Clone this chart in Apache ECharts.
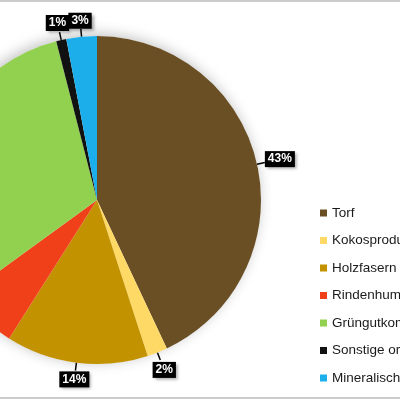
<!DOCTYPE html>
<html>
<head>
<meta charset="utf-8">
<script src="https://cdn.jsdelivr.net/npm/echarts@6/dist/echarts.min.js"></script>
<style>html,body{margin:0;padding:0;background:#fff;}#c{width:400px;height:400px;}</style>
</head>
<body>
<div id="c"></div>
<script>
const categories = ['Torf', 'Kokosprodukte', 'Holzfasern', 'Rindenhumus', 'Grüngutkompost', 'Sonstige organische Stoffe', 'Mineralische Stoffe'];
const shares = [43, 2, 14, 6, 31, 1, 3];
const colors = ['#6a4f25', '#ffd966', '#c29200', '#f0401a', '#92d050', '#111111', '#1caeea'];

const CENTER = [97, 200];
const RADIUS = 164;
const GAP = 7;

const chart = echarts.init(document.getElementById('c'), null, {renderer: 'canvas'});
chart.setOption({
  backgroundColor: '#ffffff',
  animation: false,
  legend: {
    orient: 'vertical',
    left: 315,
    top: 200,
    icon: 'rect',
    itemWidth: 7,
    itemHeight: 7,
    itemGap: 11.5,
    textStyle: {fontFamily: 'Liberation Sans, Arial, sans-serif', fontSize: 13.5, color: '#1a1a1a', lineHeight: 16},
    data: categories
  },
  graphic: [
    {type: 'line', shape: {x1: 0, y1: 1, x2: 400, y2: 1}, style: {stroke: '#cccccc', lineWidth: 2}, silent: true},
    {type: 'line', shape: {x1: 0, y1: 398, x2: 400, y2: 398}, style: {stroke: '#cccccc', lineWidth: 2}, silent: true}
  ],
  series: [
    {
      type: 'pie',
      silent: true,
      center: CENTER,
      radius: RADIUS,
      z: 1,
      label: {show: false},
      labelLine: {show: false},
      itemStyle: {color: '#ffffff', shadowBlur: 14, shadowColor: 'rgba(0,0,0,0.25)', shadowOffsetX: -2, shadowOffsetY: -2},
      data: [{value: 1, name: ''}]
    },
    {
      type: 'pie',
      center: CENTER,
      radius: RADIUS,
      startAngle: 90,
      clockwise: true,
      z: 2,
      avoidLabelOverlap: false,
      label: {
        show: true,
        position: 'outside',
        alignTo: 'none',
        overflow: 'none',
        formatter: '{c}%',
        color: '#ffffff',
        backgroundColor: '#000000',
        fontFamily: 'Liberation Sans, Arial, sans-serif',
        fontWeight: 'bold',
        fontSize: 12,
        padding: [2, 3, 1, 3],
        lineHeight: 13,
        shadowColor: 'rgba(0,0,0,0.35)',
        shadowBlur: 3,
        shadowOffsetX: 2,
        shadowOffsetY: 2
      },
      labelLine: {show: true, length: 6, length2: 0, lineStyle: {color: '#000', width: 1.5}},
      labelLayout: function (p) {
        const pts = p.labelLinePoints;
        if (!pts) return {};
        const p0 = pts[0];
        let dx = p0[0] - CENTER[0], dy = p0[1] - CENTER[1];
        const len = Math.sqrt(dx * dx + dy * dy) || 1;
        dx /= len; dy /= len;
        const w = p.labelRect.width, h = p.labelRect.height;
        const ext = Math.abs(dx) * w / 2 + Math.abs(dy) * h / 2;
        const cx = p0[0] + dx * (GAP + ext);
        const cy = p0[1] + dy * (GAP + ext);
        const ex = p0[0] + dx * (GAP + 1);
        const ey = p0[1] + dy * (GAP + 1);
        return {
          x: cx, y: cy, align: 'center', verticalAlign: 'middle',
          labelLinePoints: [[p0[0], p0[1]], [ex, ey], [ex, ey]]
        };
      },
      itemStyle: {borderWidth: 0},
      data: categories.map((n, i) => ({name: n, value: shares[i], itemStyle: {color: colors[i]}}))
    }
  ]
});
</script>
</body>
</html>
